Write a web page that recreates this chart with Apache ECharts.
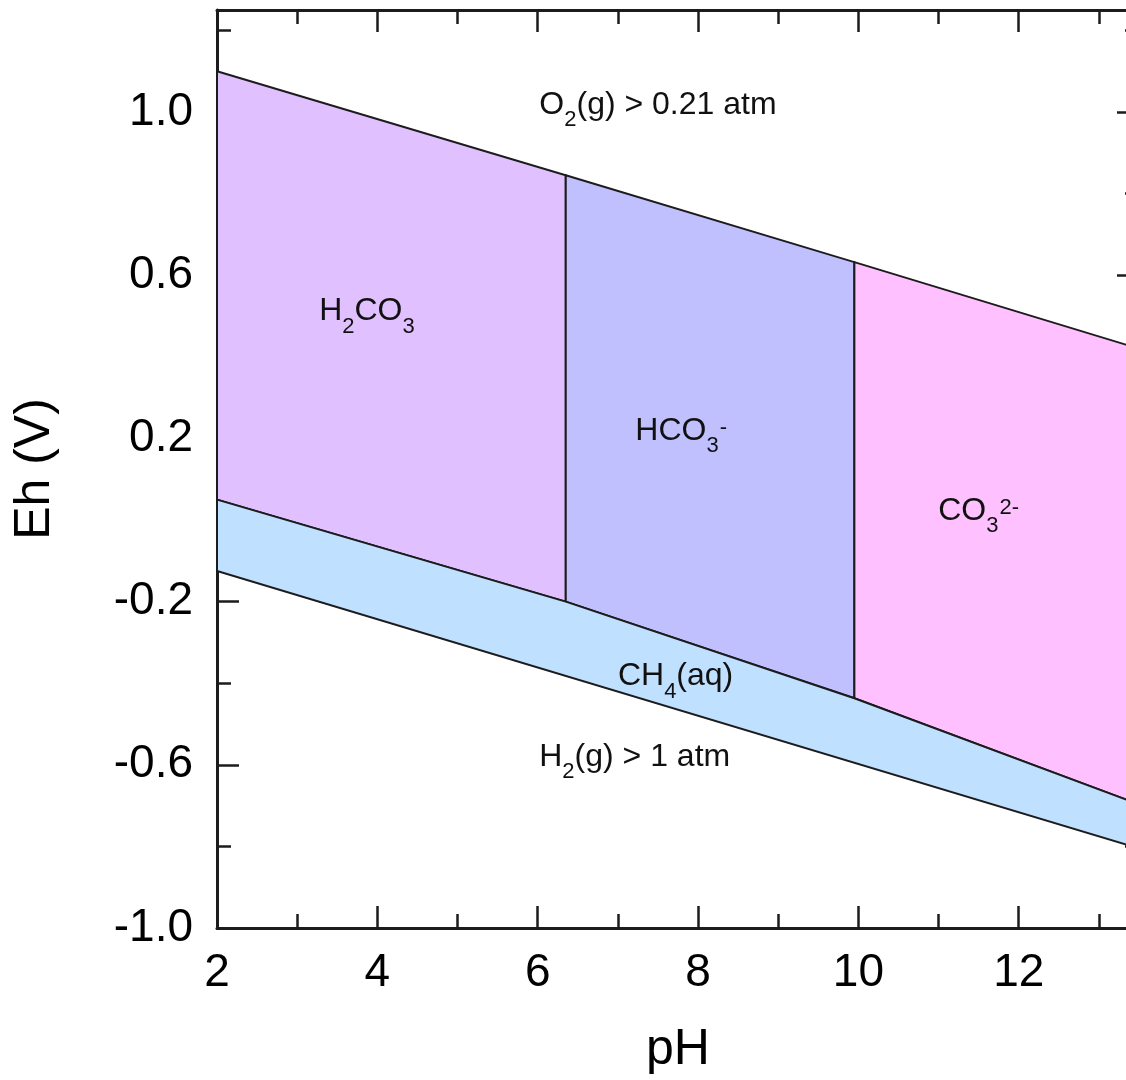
<!DOCTYPE html>
<html><head><meta charset="utf-8">
<script src="https://cdn.jsdelivr.net/npm/echarts@6/dist/echarts.min.js"></script>
<style>html,body{margin:0;padding:0;background:#fff;overflow:hidden;width:1126px;height:1080px}#c{width:1160px;height:1080px}</style>
</head><body><div id="c"></div>
<script>
// ---- data ----
const pHBreaks   = [2, 6.35, 9.95, 13.5];          // pH at left edge, H2CO3/HCO3-, HCO3-/CO3--, right edge
const ehO2Line   = [1.10, 0.845, 0.632, 0.42];     // upper water-stability line (O2 0.21 atm) at pHBreaks
const ehCH4Line  = [0.05, -0.20, -0.437, -0.697];  // carbonate / CH4(aq) boundary at pHBreaks
const ehH2Line   = [-0.125, -0.805];               // lower water-stability line (H2 1 atm) at pH 2 and 13.5

const xMajorTicks = [2, 4, 6, 8, 10, 12];
const xMinorTicks = [3, 5, 7, 9, 11, 13];
const yMajorTicks = [-1.0, -0.6, -0.2, 0.2, 0.6, 1.0];
const yMinorTicks = [-0.8, -0.4, 0, 0.4, 0.8, 1.2];

const fieldLabels = [
  { pH: 7.50, eh: 1.022, text: '{n|O}{s|2}{n|(g) > 0.21 atm}' },
  { pH: 3.87, eh: 0.516, text: '{n|H}{s|2}{n|CO}{s|3}' },
  { pH: 7.79, eh: 0.222, text: '{n|HCO}{s|3}{p|-}' },
  { pH: 11.50, eh: 0.027, text: '{n|CO}{s|3}{p|2-}' },
  { pH: 7.72, eh: -0.379, text: '{n|CH}{s|4}{n|(aq)}' },
  { pH: 7.21, eh: -0.577, text: '{n|H}{s|2}{n|(g) > 1 atm}' }
];

// ---- polygons built from the boundary arrays ----
const P = pHBreaks, O = ehO2Line, C = ehCH4Line, H = ehH2Line;
const regions = [
  [[P[0], O[0]], [P[1], O[1]], [P[1], C[1]], [P[0], C[0]]],                 // H2CO3
  [[P[1], O[1]], [P[2], O[2]], [P[2], C[2]], [P[1], C[1]]],                 // HCO3-
  [[P[2], O[2]], [P[3], O[3]], [P[3], C[3]], [P[2], C[2]]],                 // CO3 2-
  [[P[0], C[0]], [P[1], C[1]], [P[2], C[2]], [P[3], C[3]], [P[3], H[1]], [P[0], H[0]]] // CH4(aq)
];
const regionColors = ['#e0c0ff', '#c0c0ff', '#ffc0ff', '#c0e0ff'];

const FF = '"Liberation Sans", Arial, Helvetica, sans-serif';
const INK = '#1c1c1c';

function axis(kind, pos, ticks, len, main) {
  const isX = kind === 'x';
  return {
    type: 'value',
    position: pos,
    min: isX ? 2 : -1.0,
    max: isX ? 13.5 : 1.25,
    axisLine: { show: main, onZero: false, lineStyle: { color: INK, width: 3 } },
    axisTick: { show: true, inside: true, length: len, customValues: ticks, lineStyle: { color: INK, width: 2.5 } },
    axisLabel: { show: false },
    splitLine: { show: false }
  };
}

const xAxes = [
  axis('x', 'bottom', xMajorTicks, 22, true),
  axis('x', 'bottom', xMinorTicks, 14, false),
  axis('x', 'top', xMajorTicks, 22, true),
  axis('x', 'top', xMinorTicks, 14, false)
];
xAxes[0].axisLabel = {
  show: true, customValues: xMajorTicks, fontSize: 46, fontFamily: FF, color: '#000', margin: 22,
  formatter: v => String(v)
};
xAxes[0].name = 'pH';
xAxes[0].nameLocation = 'middle';
xAxes[0].nameGap = 97;
xAxes[0].nameTextStyle = { fontSize: 50, fontFamily: FF, color: '#000' };

const yAxes = [
  axis('y', 'left', yMajorTicks, 22, true),
  axis('y', 'left', yMinorTicks, 14, false),
  axis('y', 'right', yMajorTicks, 22, true),
  axis('y', 'right', yMinorTicks, 14, false)
];
yAxes[0].axisLabel = {
  show: true, customValues: yMajorTicks, fontSize: 46, fontFamily: FF, color: '#000', margin: 24,
  formatter: v => v.toFixed(1)
};
yAxes[0].name = 'Eh (V)';
yAxes[0].nameLocation = 'middle';
yAxes[0].nameGap = 157;
yAxes[0].nameTextStyle = { fontSize: 50, fontFamily: FF, color: '#000' };

const rich = {
  n: { fontSize: 32, fontFamily: FF, fill: '#111', lineHeight: 40, verticalAlign: 'top' },
  s: { fontSize: 22, fontFamily: FF, fill: '#111', lineHeight: 22, padding: [20, 0, 0, 0], verticalAlign: 'top' },
  p: { fontSize: 22, fontFamily: FF, fill: '#111', lineHeight: 22, padding: [2, 0, 0, 1], verticalAlign: 'top' }
};

const chart = echarts.init(document.getElementById('c'), null, { renderer: 'canvas' });
chart.setOption({
  animation: false,
  backgroundColor: '#fff',
  grid: { left: 217, top: 10, width: 922, height: 920, containLabel: false },
  xAxis: xAxes,
  yAxis: yAxes,
  series: [
    {
      type: 'custom',
      xAxisIndex: 0, yAxisIndex: 0,
      data: regions.map((r, i) => [r[0][0], r[0][1], i]),
      renderItem: function (params, api) {
        const idx = params.dataIndex;
        const pts = regions[idx].map(p => api.coord(p));
        return {
          type: 'polygon',
          shape: { points: pts },
          style: { fill: regionColors[idx], stroke: INK, lineWidth: 2, lineJoin: 'miter' }
        };
      },
      clip: false,
      z: 1
    },
    {
      type: 'custom',
      xAxisIndex: 0, yAxisIndex: 0,
      data: fieldLabels.map(l => [l.pH, l.eh]),
      renderItem: function (params, api) {
        const pt = api.coord([api.value(0), api.value(1)]);
        return {
          type: 'text',
          x: pt[0], y: pt[1] + 6,
          style: {
            text: fieldLabels[params.dataIndex].text,
            rich: rich,
            align: 'center',
            verticalAlign: 'middle',
            fill: '#111'
          }
        };
      },
      z: 5
    }
  ]
});
</script>
</body></html>
